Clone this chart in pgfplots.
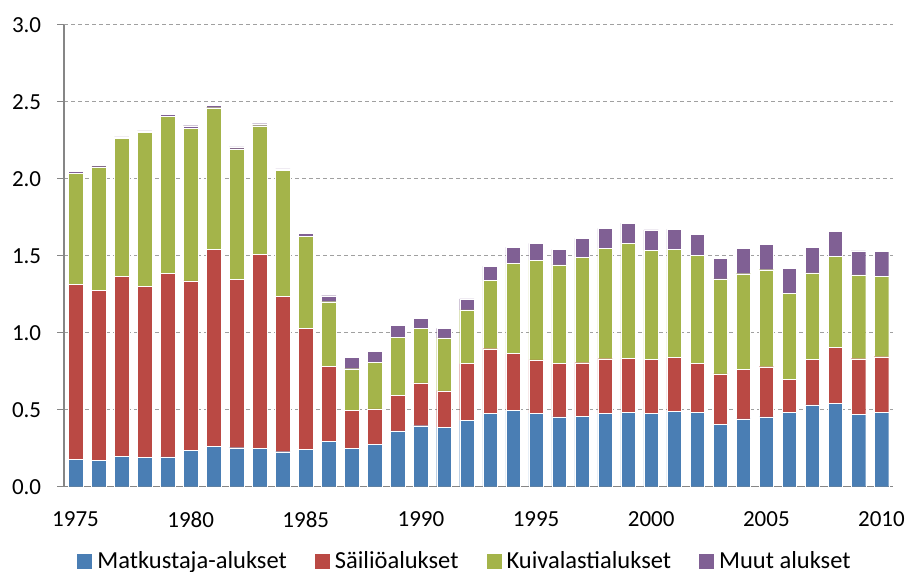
\documentclass[border=0pt]{standalone}
\usepackage{pgfplots}
\usepackage{pgfplotstable}
\pgfplotsset{compat=1.18}
\usepackage{fontspec}
\setmainfont{Carlito}
\definecolor{cblue}{RGB}{74,126,180}
\definecolor{cred}{RGB}{186,73,68}
\definecolor{cgreen}{RGB}{164,180,74}
\definecolor{cpurple}{RGB}{128,96,148}
\definecolor{axgray}{RGB}{134,134,134}
\definecolor{gridgray}{RGB}{160,160,160}
\pgfplotstableread{
year blue red green purple
1975 0.178 1.136 0.721 0.011
1976 0.171 1.102 0.803 0.011
1977 0.195 1.169 0.898 0.009
1978 0.191 1.108 1.000 0.011
1979 0.193 1.193 1.021 0.011
1980 0.234 1.102 0.993 0.015
1981 0.260 1.279 0.922 0.015
1982 0.253 1.094 0.846 0.013
1983 0.247 1.260 0.837 0.013
1984 0.227 1.007 0.818 0.011
1985 0.243 0.783 0.600 0.019
1986 0.295 0.487 0.419 0.039
1987 0.251 0.243 0.272 0.072
1988 0.273 0.232 0.303 0.073
1989 0.362 0.229 0.381 0.078
1990 0.396 0.279 0.353 0.063
1991 0.386 0.237 0.343 0.062
1992 0.431 0.368 0.350 0.070
1993 0.477 0.419 0.442 0.095
1994 0.494 0.370 0.587 0.104
1995 0.477 0.346 0.649 0.108
1996 0.453 0.346 0.641 0.101
1997 0.455 0.350 0.685 0.123
1998 0.477 0.354 0.717 0.130
1999 0.481 0.353 0.747 0.131
2000 0.477 0.348 0.712 0.130
2001 0.490 0.348 0.703 0.132
2002 0.481 0.318 0.704 0.136
2003 0.405 0.327 0.617 0.132
2004 0.440 0.320 0.623 0.165
2005 0.453 0.326 0.630 0.165
2006 0.483 0.212 0.561 0.164
2007 0.531 0.298 0.559 0.164
2008 0.539 0.364 0.593 0.162
2009 0.470 0.361 0.544 0.156
2010 0.481 0.363 0.522 0.163
}\datatable
\begin{document}
\fontsize{23bp}{27bp}\selectfont
\begin{tikzpicture}
\path[use as bounding box] (-64bp,-85.3bp) rectangle (845bp,462bp+24.7bp);
\begin{axis}[
  scale only axis,
  width=829bp, height=462bp,
  xmin=1974.5, xmax=2010.5,
  ymin=0, ymax=3,
  ybar stacked,
  bar width=14.5bp,
  axis x line=bottom, axis y line=left,
  axis line style={-, draw=axgray, line width=1.4bp},
  xtick={1975,1980,...,2010},
  minor xtick={1974.5,1975.5,...,2010.5},
  ytick={0,0.5,...,3},
  tick align=outside,
  major tick length=7bp,
  minor tick length=7bp,
  xtick style={draw=none},
  minor tick style={draw=axgray, line width=1.2bp},
  ytick style={draw=axgray, line width=1.2bp},
  x tick label style={/pgf/number format/1000 sep={}, yshift=-10bp},
  y tick label style={/pgf/number format/fixed, /pgf/number format/fixed zerofill, /pgf/number format/precision=1, xshift=-8bp},
  /pgf/number format/assume math mode=true,
  ticklabel style={font=\fontsize{23bp}{27bp}\selectfont, text=black},
  ymajorgrids,
  major grid style={draw=gridgray, line width=1.2bp, dash pattern=on 4bp off 3bp},
  legend columns=4,
  legend style={at={(axis description cs:0.4837,-0.162)}, anchor=center, draw=none, fill=none,
    font=\fontsize{24.5bp}{28bp}\selectfont,
    /tikz/every even column/.append style={column sep=26bp},
    /tikz/every odd column/.append style={column sep=3bp}},
  legend image code/.code={\fill[#1,draw=none] (0bp,-7.5bp) rectangle (15bp,7.5bp);},
  every axis plot/.append style={draw=white, line width=0.4bp},
]
\addplot[fill=cblue] table[x=year,y=blue] {\datatable};
\addplot[fill=cred] table[x=year,y=red] {\datatable};
\addplot[fill=cgreen] table[x=year,y=green] {\datatable};
\addplot[fill=cpurple] table[x=year,y=purple] {\datatable};
\legend{Matkustaja-alukset,Säiliöalukset,Kuivalastialukset,Muut alukset}
\end{axis}
\end{tikzpicture}
\end{document}
